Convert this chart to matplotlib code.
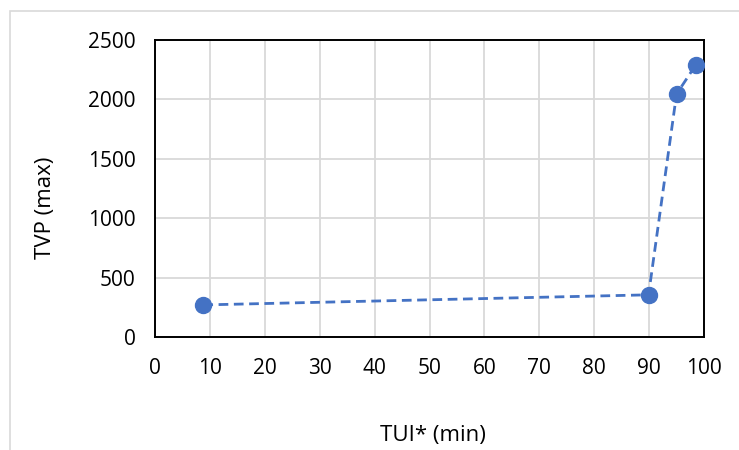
import matplotlib.pyplot as plt
from matplotlib.patches import Rectangle

# datos
tui_min = [8.8, 89.9, 95.0, 98.5]
tvp_max = [270, 355, 2045, 2290]
x_ticks = list(range(0, 101, 10))
y_ticks = list(range(0, 2501, 500))

plt.rcParams['font.family'] = ['Open Sans', 'DejaVu Sans']

fig = plt.figure(figsize=(7.39, 4.5), dpi=100)
ax = fig.add_axes([155 / 739, 1 - 337 / 450, (704 - 155) / 739, (337 - 40) / 450])

# borde gris del gráfico (sale por la derecha y por abajo)
fig.patches.append(Rectangle((10 / 739, -0.5), 1.5, 1.5 - 11 / 450,
                             transform=fig.transFigure, fill=False,
                             edgecolor='#D9D9D9', linewidth=1.2))

ax.plot(tui_min, tvp_max, linestyle='--', color='#4472C4', linewidth=2,
        dashes=(3.5, 2), marker='o', markersize=11.5, zorder=3)

ax.set_xlim(0, 100)
ax.set_ylim(0, 2500)
ax.set_xticks(x_ticks)
ax.set_yticks(y_ticks)
ax.grid(True, color='#D9D9D9', linewidth=1.3)
ax.set_axisbelow(True)
ax.tick_params(length=0, labelsize=15)
ax.tick_params(axis='x', pad=15)
ax.tick_params(axis='y', pad=14)
for s in ax.spines.values():
    s.set_color('black')
    s.set_linewidth(1.4)

ax.set_xlabel('TUI* (min)', fontsize=16)
ax.set_ylabel('TVP (max)', fontsize=16)
ax.xaxis.set_label_coords(433 / 739, 1 - 436 / 450, transform=fig.transFigure)
ax.yaxis.set_label_coords(45 / 739, 1 - 208 / 450, transform=fig.transFigure)
ax.xaxis.label.set_va('center')
ax.yaxis.label.set_va('center')

plt.savefig('out.png', dpi=100)
